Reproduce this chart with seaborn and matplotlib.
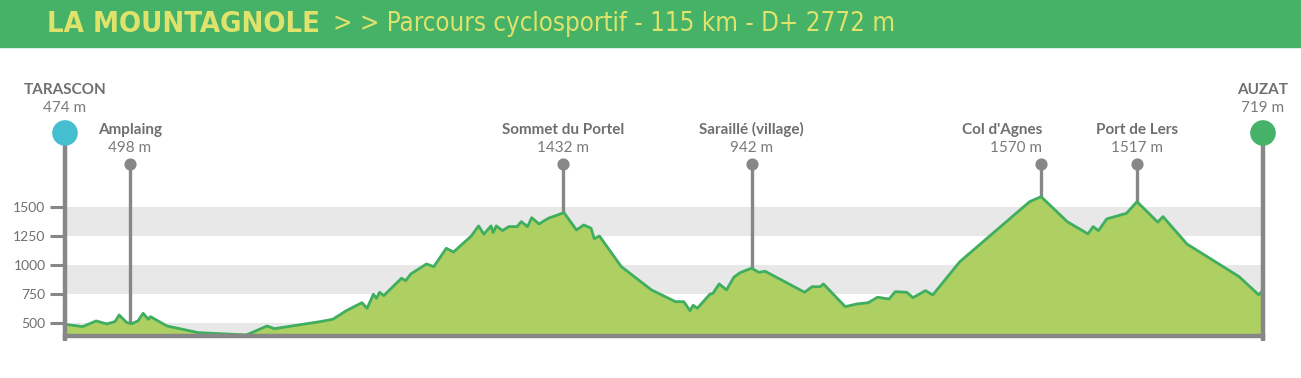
import numpy as np
import pandas as pd
import matplotlib
matplotlib.use('Agg')
import matplotlib.pyplot as plt
import seaborn as sns

# elevation profile (km, m)
km = [0, 1.7, 3.0, 4.0, 4.8, 5.2, 5.9, 6.4, 7.0, 7.5, 8.0, 8.2, 9.8, 12.8, 17.4, 19.4, 20.1, 24.5, 25.7, 27.0,
      28.5, 29.0, 29.6, 29.9, 30.2, 30.6, 32.3, 32.7, 33.2, 34.7, 35.4, 36.6, 37.3, 39.0, 39.7, 40.2, 40.9, 41.1,
      41.4, 42.0, 42.6, 43.4, 43.8, 44.4, 44.8, 45.5, 46.4, 47.9, 49.1, 49.8, 50.5, 50.8, 51.3, 53.4, 56.3, 58.6,
      59.4, 60.0, 60.3, 60.7, 61.9, 62.2, 62.8, 63.5, 64.2, 64.8, 65.9, 66.6, 67.2, 71.0, 71.7, 72.5, 72.8, 74.9,
      76.0, 77.1, 78.0, 79.1, 79.7, 80.8, 81.4, 82.6, 83.3, 85.9, 92.6, 93.7, 96.2, 98.2, 98.7, 99.2, 100.0,
      101.9, 102.9, 104.9, 105.4, 107.7, 112.7, 114.6, 115.0]
elev = [486, 466, 515, 489, 509, 566, 503, 491, 515, 581, 529, 552, 471, 414, 394, 471, 448, 509, 529, 603,
        672, 624, 745, 710, 762, 733, 883, 862, 920, 1006, 983, 1141, 1109, 1247, 1334, 1262, 1334, 1276,
        1334, 1293, 1328, 1328, 1371, 1328, 1405, 1351, 1400, 1448, 1299, 1342, 1314, 1224, 1247, 983, 782, 681,
        681, 603, 650, 624, 745, 753, 834, 782, 891, 931, 969, 934, 943, 762, 810, 810, 834, 638, 661,
        672, 719, 704, 767, 762, 716, 776, 739, 1026, 1543, 1586, 1371, 1265, 1328, 1293, 1394,
        1443, 1543, 1366, 1414, 1178, 897, 739, 782]

# waypoints
wp_names = ['Amplaing', 'Sommet du Portel', 'Saraillé (village)', "Col d'Agnes", 'Port de Lers']
wp_km = [6.2, 47.8, 65.9, 93.7, 102.9]
wp_alt = [498, 1432, 942, 1570, 1517]
wp_align = ['center', 'center', 'center', 'right', 'center']

end_names = ['TARASCON', 'AUZAT']
end_km = [0, 115]
end_alt = [474, 719]
end_colors = ['#45bfd0', '#45b267']

yticks = [500, 750, 1000, 1250, 1500]

df = pd.DataFrame({'km': km, 'elev': elev})

sns.set_style('white')
plt.rcParams['font.family'] = ['Lato', 'DejaVu Sans']

W, H = 1301, 378
fig = plt.figure(figsize=(W / 100, H / 100), dpi=100)

# header band
fig.patches.append(plt.Rectangle((0, 1 - 47 / H), 1, 47 / H, transform=fig.transFigure,
                                 color='#45b267', zorder=0))
fig.text(47 / W, 1 - 24 / H, 'LA MOUNTAGNOLE', color='#dfe36b', fontsize=21, fontweight='bold',
         family='DejaVu Sans', fontstretch='condensed', va='center', ha='left')
fig.text(333 / W, 1 - 24 / H, '> > Parcours cyclosportif - 115 km - D+ 2772 m', color='#dfe36b',
         fontsize=18.5, family='DejaVu Sans', fontstretch='condensed', va='center', ha='left')

ax = fig.add_axes([65 / W, 42 / H, 1198 / W, 276 / H])
ymin, ymax = 385, 2764
ax.set_xlim(0, 115)
ax.set_ylim(ymin, ymax)

# gray bands
for lo, hi in [(ymin, 500), (750, 1000), (1250, 1500)]:
    ax.axhspan(lo, hi, color='#e8e8e8', lw=0, zorder=0)

ax.fill_between(df['km'], df['elev'], ymin, color='#aecf62', lw=0, zorder=2)
sns.lineplot(data=df, x='km', y='elev', ax=ax, color='#3fae5f', linewidth=2, sort=False, zorder=3)

gray = '#878787'
dot_level = 1868
circle_level = 2135

# intermediate waypoints
stem_base = np.interp(wp_km, km, elev)
ax.vlines(wp_km, stem_base, dot_level, color=gray, lw=2.4, zorder=1)
ax.scatter(wp_km, [dot_level] * len(wp_km), s=60, color=gray, zorder=4, clip_on=False)
for name, x, alt, ha in zip(wp_names, wp_km, wp_alt, wp_align):
    xo = 0 if ha == 'center' else 0.1
    ax.text(x + xo, 2161, name, ha=ha, va='center', fontsize=11, color='#6f6f6f', fontweight='bold')
    ax.text(x + xo, 2006, f'{alt} m', ha=ha, va='center', fontsize=11, color='#7a7a7a')

# start / finish
ax.vlines(end_km, ymin - 40, circle_level, color=gray, lw=3.2, zorder=5, clip_on=False)
ax.scatter(end_km, [circle_level] * 2, s=340, c=end_colors, zorder=6, clip_on=False, linewidths=0)
for name, x, alt in zip(end_names, end_km, end_alt):
    ax.text(x, 2506, name, ha='center', va='center', fontsize=11, color='#6f6f6f', fontweight='bold',
            clip_on=False)
    ax.text(x, 2350, f'{alt} m', ha='center', va='center', fontsize=11, color='#7a7a7a', clip_on=False)

for s in ['top', 'left', 'right']:
    ax.spines[s].set_visible(False)
ax.spines['bottom'].set_color(gray)
ax.spines['bottom'].set_linewidth(3.2)
ax.spines['bottom'].set_zorder(5)

ax.set_yticks(yticks)
ax.set_yticklabels([str(t) for t in yticks])
ax.tick_params(axis='y', length=11, width=2.2, color=gray, labelcolor='#707070', labelsize=10, pad=3,
               left=True)
ax.set_xticks([])
ax.set_xlabel('')
ax.set_ylabel('')
ax.patch.set_alpha(0)

fig.savefig('out.png', dpi=100)
